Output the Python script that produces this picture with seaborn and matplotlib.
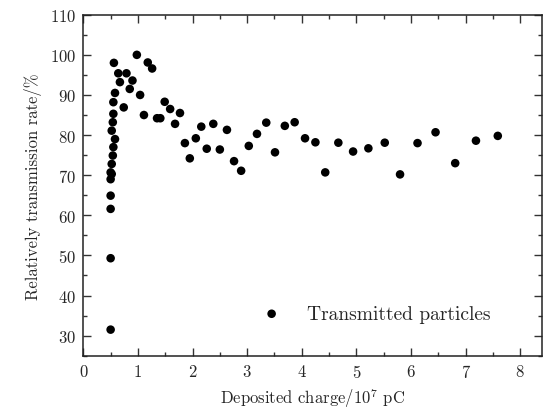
import matplotlib
matplotlib.use('Agg')
import matplotlib.pyplot as plt
from matplotlib.ticker import MultipleLocator
import pandas as pd
import seaborn as sns

# deposited charge (1e7 pC) and relative transmission rate (%)
charge = [
    0.50, 0.50, 0.50, 0.50, 0.50, 0.50,
    0.52, 0.52, 0.54, 0.55, 0.58, 0.52, 0.54, 0.55, 0.55, 0.58, 0.56,
    0.64, 0.79, 0.67, 0.90, 0.85, 0.74, 0.98, 1.04, 1.11,
    1.18, 1.26, 1.35, 1.41, 1.49, 1.59, 1.68, 1.77, 1.86, 1.95,
    2.06, 2.16, 2.26, 2.38, 2.50, 2.63, 2.76, 2.89, 3.03, 3.18,
    3.35, 3.51, 3.69, 3.87, 4.06, 4.25, 4.43, 4.67, 4.94, 5.22,
    5.52, 5.80, 6.12, 6.45, 6.81, 7.19, 7.59,
]
rate = [
    31.5, 49.3, 61.6, 64.9, 69.0, 70.7,
    70.3, 72.8, 74.9, 77.0, 79.0, 81.1, 83.2, 85.3, 88.2, 90.5, 98.0,
    95.4, 95.4, 93.2, 93.6, 91.5, 86.9, 100.0, 90.0, 85.0,
    98.1, 96.6, 84.2, 84.2, 88.3, 86.5, 82.8, 85.5, 78.0, 74.2,
    79.2, 82.1, 76.6, 82.8, 76.4, 81.3, 73.5, 71.1, 77.3, 80.3,
    83.1, 75.7, 82.3, 83.2, 79.2, 78.2, 70.7, 78.1, 75.9, 76.7,
    78.1, 70.2, 78.0, 80.7, 73.0, 78.6, 79.8,
]

df = pd.DataFrame({'charge': charge, 'rate': rate})

sns.set_style('ticks')
plt.rcParams['font.family'] = ['cmr10', 'DejaVu Serif']
plt.rcParams['mathtext.fontset'] = 'cm'
plt.rcParams['axes.formatter.use_mathtext'] = True

fig = plt.figure(figsize=(5.5, 4.14), dpi=100)
ax = fig.add_axes([0.1515, 0.1384, 0.834, 0.8236])

sns.scatterplot(data=df, x='charge', y='rate', ax=ax, color='black',
                s=38, edgecolor='none', label='Transmitted particles')

ax.set_xlim(0, 8.4)
ax.set_ylim(25, 110)
ax.xaxis.set_major_locator(MultipleLocator(1))
ax.xaxis.set_minor_locator(MultipleLocator(0.5))
ax.yaxis.set_major_locator(MultipleLocator(10))
ax.yaxis.set_minor_locator(MultipleLocator(5))
ax.tick_params(which='both', direction='in', top=True, right=True,
               labelsize=12, color='#333333', width=1.0)
ax.tick_params(which='major', length=5.5, pad=5)
ax.tick_params(which='minor', length=3)
for sp in ax.spines.values():
    sp.set_linewidth(1.1)
    sp.set_color('#222222')

ax.set_xlabel(r'Deposited charge/10$^7$ pC', fontsize=12, labelpad=4)
ax.set_ylabel('Relatively transmission rate/%', fontsize=12, labelpad=6)

ax.legend(loc='lower right', frameon=False, fontsize=14,
          bbox_to_anchor=(0.925, 0.045), handletextpad=0.8, markerscale=1.0)

fig.savefig('out.png', dpi=100)
